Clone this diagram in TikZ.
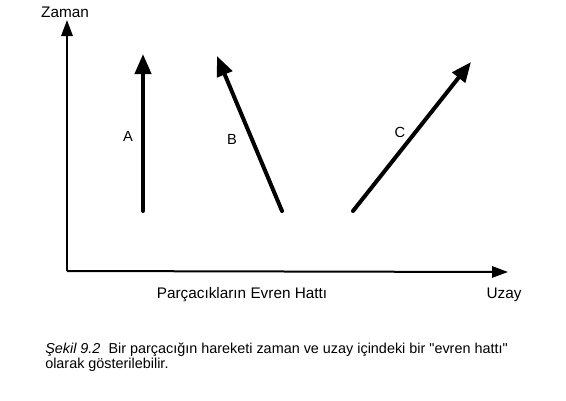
\documentclass[tikz,border=0pt]{standalone}
\usepackage{fontspec}
\setmainfont{Liberation Sans}
\usetikzlibrary{arrows.meta}
\begin{document}
\begin{tikzpicture}[x=0.75pt,y=-0.75pt,
  axis/.style={line width=1.5pt,-{Triangle[length=12pt,width=8.5pt]}},
  wline/.style={line width=3pt,line cap=round,-{Triangle[length=15pt,width=12pt]}},
  lbl/.style={font=\fontsize{11}{12}\selectfont,inner sep=0pt},
  axlbl/.style={font=\fontsize{11.5}{13}\selectfont,inner sep=0pt},
  captxt/.style={font=\fontsize{10.8}{10}\selectfont,inner sep=0pt,anchor=north west,align=left}]
\useasboundingbox (0,0) rectangle (566,400);
\coordinate (o) at (67,271);
\coordinate (yt) at (67,20);
\coordinate (xt) at (508,272);
\draw[axis] (o) -- (yt);
\draw[axis] (o) -- (xt);
\coordinate (a0) at (143,211);
\coordinate (a1) at (143,54);
\coordinate (b0) at (282,211);
\coordinate (b1) at (217,56);
\coordinate (c0) at (353,211);
\coordinate (c1) at (471,62);
\draw[wline] (a0) -- (a1);
\draw[wline] (b0) -- (b1);
\draw[wline] (c0) -- (c1);
\node[lbl] (la) at (128,136) {A};
\node[lbl] (lb) at (232,139) {B};
\node[lbl] (lc) at (400,132) {C};
\node[axlbl] (zaman) at (65,12) {Zaman};
\node[axlbl] (uzay) at (504,295) {Uzay};
\node[axlbl] (pe) at (242,295) {Parçacıkların Evren Hattı};
\node[captxt] (caption) at (45,343) {\textit{Şekil 9.2}\ \ Bir parçacığın hareketi zaman ve uzay içindeki bir \textquotedbl evren hattı\textquotedbl\\olarak gösterilebilir.};
\end{tikzpicture}
\end{document}
